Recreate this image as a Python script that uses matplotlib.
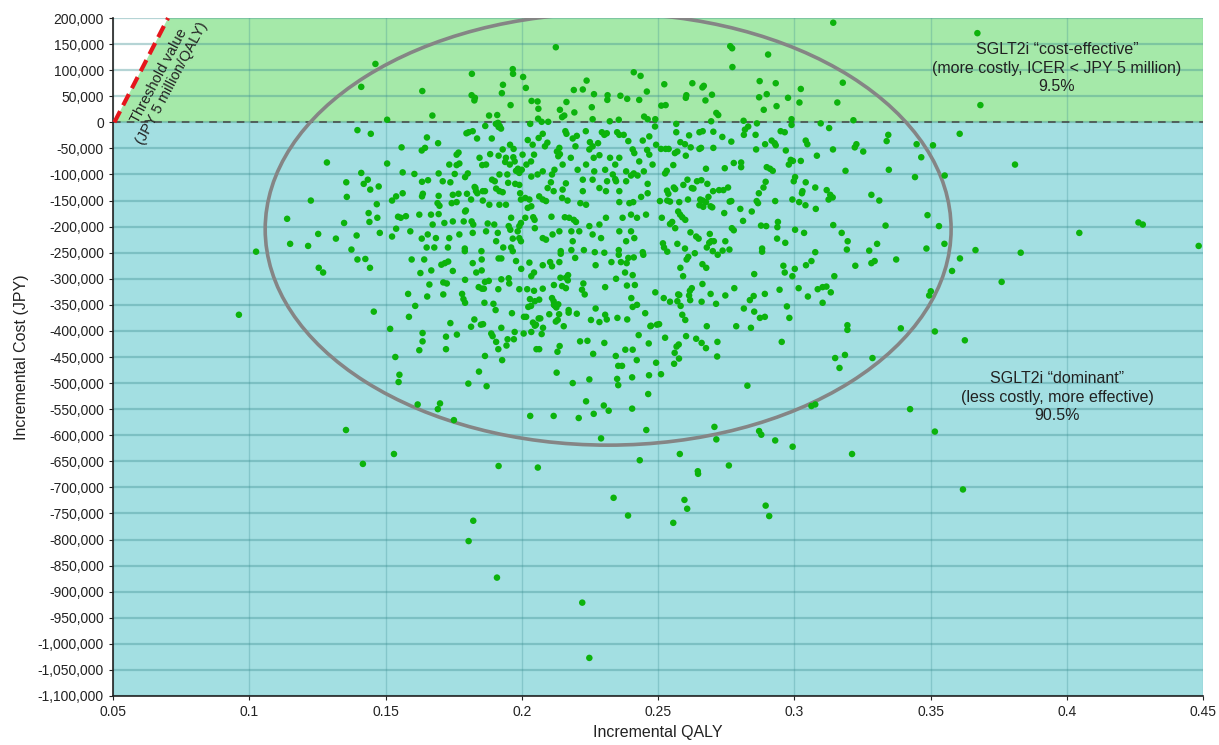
import numpy as np
import matplotlib
matplotlib.use("Agg")
import matplotlib.pyplot as plt
from matplotlib.patches import Ellipse, Polygon, Rectangle
from matplotlib.ticker import FuncFormatter, MultipleLocator

plt.rcParams['font.family'] = ['Liberation Sans', 'DejaVu Sans']

# simulation results: (incremental QALY, incremental cost in thousand JPY)
pts_left = [
    (0.1463, 112), (0.1411, 68), (0.1397, -15), (0.1446, -22), (0.1285, -77), (0.1411, -97), (0.1356, -115),
    (0.1435, -110), (0.1420, -118), (0.1444, -129), (0.1475, -123), (0.1226, -150), (0.1358, -143), (0.1468, -157),
    (0.1438, -174), (0.1470, -183), (0.1441, -191), (0.1139, -185), (0.1348, -193), (0.1479, -212), (0.1253, -214),
    (0.1318, -223), (0.1394, -217), (0.1150, -233), (0.1216, -237), (0.1025, -248), (0.1375, -244), (0.1397, -263),
    (0.1426, -262), (0.1443, -279), (0.1255, -279), (0.1271, -288), (0.0962, -369), (0.1457, -363), (0.1355, -590),
    (0.1417, -655),
]
pts_low_tail = [
    (0.2337, -720), (0.2390, -754), (0.1822, -764), (0.1805, -803), (0.1909, -873), (0.2222, -921), (0.2248, -1027),
    (0.2597, -724), (0.2607, -741), (0.2556, -768), (0.2895, -735), (0.2908, -755), (0.2647, -674), (0.3619, -704),
]
pts_right = [
    (0.3672, 171), (0.3683, 33), (0.3607, -22), (0.3509, -44), (0.3810, -81), (0.3552, -102), (0.3531, -199),
    (0.4046, -212), (0.4263, -192), (0.4279, -196), (0.3551, -233), (0.4484, -237), (0.3665, -245), (0.3831, -250),
    (0.3608, -261), (0.3579, -285), (0.3761, -306), (0.3516, -401), (0.3626, -418), (0.3516, -593),
]
pts_upper_right = [
    (0.3143, 191), (0.2765, 146), (0.2772, 142), (0.2904, 130), (0.2773, 106), (0.2523, 73), (0.2626, 75),
    (0.2663, 67), (0.2668, 70), (0.2698, 53), (0.2604, 52), (0.2602, 47), (0.2674, 42), (0.2512, 32), (0.2528, 33),
    (0.2873, 79), (0.2932, 75), (0.2899, 54), (0.2871, 48), (0.2977, 47), (0.3024, 64), (0.3019, 38), (0.2935, 31),
    (0.2888, 24), (0.3178, 76), (0.3158, 38), (0.2714, 18), (0.2721, 14), (0.2695, 2), (0.2814, 3), (0.2863, -2),
    (0.2990, 6), (0.2990, -5), (0.3097, -2), (0.3128, -11), (0.3217, 4), (0.2567, -3),
    (0.2664, -17), (0.2652, -19), (0.2703, -18), (0.2831, -8), (0.2819, -14), (0.2815, -24), (0.2858, -24),
    (0.2567, -19), (0.2614, -25), (0.2736, -28), (0.2950, -17), (0.2965, -19), (0.2917, -35), (0.2928, -40),
    (0.2932, -44), (0.2893, -42), (0.2769, -37), (0.2582, -38), (0.2599, -42), (0.2620, -48), (0.2528, -51),
    (0.2539, -51), (0.2511, -51), (0.2562, -59), (0.2571, -56), (0.2602, -64), (0.2652, -51), (0.2658, -49),
    (0.2703, -49), (0.2860, -52), (0.2969, -54), (0.3042, -35), (0.3048, -42), (0.3142, -52), (0.3222, -48),
    (0.3228, -42), (0.3253, -56), (0.3339, -36), (0.3345, -24), (0.3449, -42), (0.3466, -67), (0.3083, -64),
    (0.3024, -74), (0.2987, -72), (0.2980, -81), (0.2995, -74), (0.2778, -78), (0.2805, -77), (0.2805, -86),
    (0.2745, -88), (0.2899, -86), (0.2911, -89), (0.2921, -93), (0.2676, -89), (0.2556, -82), (0.2532, -93),
    (0.2526, -98), (0.3188, -93), (0.3347, -91), (0.3443, -105), (0.3489, -178), (0.3003, -105), (0.2998, -113),
    (0.3042, -115), (0.3077, -125), (0.3119, -130), (0.3132, -139), (0.3141, -144), (0.3126, -148), (0.3028, -136),
    (0.3030, -132), (0.3018, -153), (0.2993, -148), (0.3041, -159), (0.3079, -166), (0.3283, -139), (0.3312, -150),
    (0.3335, -198), (0.3143, -197), (0.3174, -212), (0.3196, -228), (0.3304, -233), (0.2895, -114), (0.2887, -125),
    (0.2870, -136), (0.2862, -151), (0.2867, -155), (0.2930, -151), (0.2844, -171), (0.2802, -166), (0.2812, -189),
    (0.2878, -198), (0.2897, -199), (0.2940, -191), (0.2938, -201), (0.3003, -206), (0.3036, -212), (0.2937, -223),
    (0.2967, -231), (0.2771, -203), (0.2778, -207), (0.2743, -174), (0.2763, -152), (0.2769, -151), (0.2724, -130),
    (0.2740, -130), (0.2757, -125), (0.2702, -132), (0.2655, -148), (0.2664, -150), (0.2676, -153), (0.2685, -143),
    (0.2652, -159), (0.2666, -162), (0.2693, -161), (0.2699, -163), (0.2681, -118), (0.2643, -113), (0.2659, -111),
    (0.2608, -110), (0.2593, -120), (0.2624, -126), (0.2630, -127), (0.2610, -148), (0.2578, -153), (0.2533, -131),
    (0.2538, -137), (0.2558, -125), (0.2563, -128), (0.2534, -150), (0.2544, -152), (0.2507, -151), (0.2514, -183),
    (0.2574, -171), (0.2581, -177), (0.2589, -182), (0.2600, -187), (0.2552, -191), (0.2544, -195), (0.2563, -203),
    (0.2619, -211), (0.2640, -219), (0.2649, -223), (0.2690, -214), (0.2695, -228), (0.2688, -231), (0.2705, -228),
    (0.2747, -228), (0.2518, -232), (0.2571, -233),
]
pts_lower_right = [
    (0.2522, -240), (0.2534, -248), (0.2599, -242), (0.2635, -251), (0.2679, -240), (0.2701, -247), (0.2719, -254),
    (0.2737, -246), (0.2762, -244), (0.2882, -242), (0.2882, -248), (0.2605, -263), (0.2611, -258), (0.2663, -272),
    (0.2677, -279), (0.2582, -279), (0.2592, -295), (0.2853, -291), (0.2960, -275), (0.2965, -288), (0.2993, -295),
    (0.3002, -281), (0.3043, -274), (0.3063, -266), (0.3077, -249), (0.3147, -295), (0.3193, -244), (0.3224, -275),
    (0.3275, -246), (0.3283, -270), (0.3295, -266), (0.3374, -263), (0.3485, -242), (0.3495, -332), (0.3501, -324),
    (0.2663, -310), (0.2624, -318), (0.2617, -323), (0.2614, -332), (0.2618, -341), (0.2574, -330), (0.2578, -331),
    (0.2571, -343), (0.2544, -344), (0.2521, -337), (0.2583, -352), (0.2589, -369), (0.2600, -379), (0.2693, -329),
    (0.2660, -344), (0.2713, -348), (0.2747, -332), (0.2780, -318), (0.2851, -333), (0.2837, -341), (0.2815, -357),
    (0.2853, -363), (0.2874, -375), (0.2892, -373), (0.2892, -329), (0.2946, -321), (0.2973, -353), (0.2982, -375),
    (0.3016, -318), (0.3050, -334), (0.3086, -320), (0.3104, -316), (0.3118, -315), (0.3134, -326), (0.3104, -346),
    (0.2679, -391), (0.2787, -391), (0.2841, -394), (0.2954, -421), (0.2718, -421), (0.2717, -449), (0.2504, -387),
    (0.2526, -413), (0.2640, -415), (0.2660, -423), (0.2676, -433), (0.2603, -410), (0.2576, -426), (0.2568, -430),
    (0.2561, -442), (0.2577, -453), (0.2559, -463), (0.2511, -483), (0.3195, -389), (0.3195, -398), (0.3150, -452),
    (0.3186, -446), (0.3166, -471), (0.3287, -452), (0.3391, -395), (0.2828, -505), (0.3063, -544), (0.3077, -541),
    (0.3425, -550), (0.2707, -584), (0.2714, -608), (0.2871, -592), (0.2879, -599), (0.2930, -610), (0.2994, -622),
    (0.2580, -636), (0.3212, -636), (0.2760, -658), (0.2646, -669),
]
pts_lower_mid = [
    (0.1531, -636), (0.1915, -659), (0.2059, -662), (0.2433, -648), (0.2457, -590), (0.2291, -606), (0.1618, -541),
    (0.1692, -550), (0.1700, -539), (0.1751, -571), (0.2031, -563), (0.2117, -563), (0.2209, -567), (0.2264, -559),
    (0.2236, -535), (0.2301, -543), (0.2319, -553), (0.2405, -549), (0.2464, -521), (0.1551, -484), (0.1548, -498),
    (0.1536, -450), (0.1517, -396), (0.1804, -501), (0.1871, -506), (0.1843, -478), (0.1865, -448), (0.1928, -456),
    (0.2128, -480), (0.2187, -500), (0.2248, -493), (0.2350, -492), (0.2354, -504), (0.2405, -489), (0.2467, -485),
    (0.2354, -467), (0.2368, -467), (0.2345, -448), (0.2493, -461), (0.2422, -456), (0.2466, -424), (0.2474, -390),
    (0.2429, -408), (0.2380, -436), (0.2407, -436), (0.2262, -444), (0.2303, -423), (0.2241, -419), (0.2214, -420),
    (0.2139, -429), (0.2131, -440), (0.2064, -435), (0.2054, -435), (0.1722, -435), (0.1624, -437), (0.1636, -420),
    (0.1636, -404), (0.1722, -411), (0.1762, -407), (0.1586, -373), (0.1609, -352), (0.1583, -329), (0.1738, -385),
    (0.1814, -392), (0.1826, -378), (0.1850, -388), (0.1858, -387), (0.1888, -405), (0.1893, -410), (0.1906, -421),
    (0.1914, -435), (0.1925, -394), (0.1948, -416), (0.1944, -428), (0.1971, -416), (0.1974, -402), (0.1964, -366),
    (0.1904, -360), (0.1896, -348), (0.1863, -346), (0.1792, -346), (0.1786, -339), (0.1781, -329), (0.1712, -330),
    (0.1653, -334), (0.2007, -405), (0.2035, -402), (0.2073, -406), (0.2008, -373), (0.2016, -373), (0.2041, -384),
    (0.2048, -390), (0.2062, -376), (0.2068, -376), (0.2078, -394), (0.2052, -388), (0.2024, -354), (0.2034, -352),
    (0.2030, -339), (0.2048, -343), (0.2064, -340), (0.2101, -368), (0.2125, -382), (0.2132, -379), (0.2137, -368),
    (0.2154, -391), (0.2172, -360), (0.2172, -365), (0.2202, -367), (0.2111, -337), (0.2117, -343), (0.2122, -352),
    (0.2127, -355), (0.2118, -350), (0.2134, -349), (0.2254, -379), (0.2285, -383), (0.2306, -369), (0.2312, -378),
    (0.2351, -375), (0.2387, -378), (0.2402, -337), (0.2407, -354), (0.2423, -350), (0.2453, -366), (0.2472, -391),
    (0.2496, -388), (0.2490, -326), (0.2415, -312), (0.2386, -313), (0.2346, -300), (0.2306, -316), (0.2271, -357),
    (0.2226, -309), (0.2221, -321), (0.2231, -330), (0.2162, -318), (0.2148, -314), (0.2118, -312), (0.2169, -303),
    (0.2170, -293), (0.2162, -298), (0.2142, -298), (0.2045, -323), (0.2077, -319), (0.2020, -320), (0.1991, -320),
    (0.1914, -320), (0.1879, -304), (0.1865, -306), (0.1842, -316), (0.1854, -319), (0.1861, -319), (0.1925, -301),
    (0.1952, -299), (0.1954, -309), (0.1792, -302), (0.1747, -285), (0.1833, -288), (0.1853, -284), (0.1820, -270),
    (0.1853, -263), (0.1915, -261), (0.1925, -261), (0.1979, -266), (0.1998, -281), (0.2028, -269), (0.2035, -295),
    (0.2045, -288), (0.2077, -274), (0.2104, -268), (0.2111, -276), (0.2138, -268), (0.2143, -247), (0.2182, -245),
    (0.2143, -252), (0.2228, -245), (0.2268, -249), (0.2303, -250), (0.2329, -268), (0.2356, -245), (0.2356, -254),
    (0.2364, -268), (0.2391, -260), (0.2385, -270), (0.2411, -259), (0.2379, -288), (0.2407, -293), (0.2444, -249),
    (0.2446, -254), (0.2271, -274), (0.2196, -260), (0.1596, -263), (0.1642, -263), (0.1668, -284), (0.1628, -289),
    (0.1705, -273), (0.1718, -270), (0.1730, -267), (0.1661, -311), (0.1712, -307), (0.1725, -309), (0.1651, -240),
    (0.1679, -240), (0.1729, -240), (0.1791, -242), (0.1791, -247), (0.1852, -247), (0.1932, -240), (0.1961, -240),
    (0.1967, -247),
]
pts_upper_mid = [
    (0.2125, 144), (0.1817, 93), (0.1967, 102), (0.1968, 93), (0.2005, 87), (0.2015, 66), (0.1931, 72), (0.1927, 56),
    (0.1635, 60), (0.1816, 52), (0.1828, 47), (0.1826, 42), (0.1959, 33), (0.1672, 13), (0.1880, 13), (0.1910, 14),
    (0.1913, -1), (0.1919, -7), (0.1924, -12), (0.1915, -9), (0.1905, -3), (0.1506, 5), (0.1866, -7), (0.2036, 41),
    (0.2058, 40), (0.2061, 26), (0.2031, -3), (0.2060, 7), (0.2073, 1), (0.2097, 1), (0.2140, 24), (0.2164, 39),
    (0.2193, 19), (0.2148, 10), (0.2156, 13), (0.2191, 62), (0.2224, 63), (0.2238, 80), (0.2265, 54), (0.2257, 29),
    (0.2260, 6), (0.2315, 52), (0.2314, 43), (0.2362, 51), (0.2387, 45), (0.2411, 96), (0.2436, 89), (0.2459, 59),
    (0.2431, 43), (0.2449, 11), (0.2462, 6), (0.2490, 6), (0.2489, -8), (0.2356, 5), (0.2323, 2),
    (0.1805, -19), (0.1820, -17), (0.1836, -31), (0.1797, -21), (0.1652, -29), (0.1693, -40), (0.1559, -48),
    (0.1633, -54), (0.1645, -49), (0.1506, -79), (0.1563, -96), (0.1606, -99), (0.1634, -114), (0.1656, -111),
    (0.1524, -150), (0.1539, -142), (0.1563, -136), (0.1637, -137), (0.1634, -142), (0.1546, -181), (0.1556, -183),
    (0.1524, -219), (0.1591, -209), (0.1633, -223), (0.1655, -215), (0.1695, -98), (0.1710, -113), (0.1738, -115),
    (0.1761, -82), (0.1771, -79), (0.1754, -99), (0.1768, -58), (0.1792, -105), (0.1802, -98), (0.1799, -137),
    (0.1768, -137), (0.1695, -141), (0.1691, -155), (0.1695, -176), (0.1743, -155), (0.1761, -153), (0.1792, -171),
    (0.1816, -190), (0.1822, -196), (0.1827, -124), (0.1832, -132), (0.1837, -136), (0.1865, -132), (0.1857, -132),
    (0.1855, -82), (0.1884, -61), (0.1890, -31), (0.1915, -64), (0.1930, -52), (0.1939, -76), (0.1956, -81),
    (0.1947, -100), (0.1986, -89), (0.1985, -94), (0.1979, -93), (0.2000, -91), (0.1957, -43), (0.1970, -51),
    (0.1969, -67), (0.2003, -62), (0.2022, -34), (0.2040, -43), (0.2045, -62), (0.2034, -75), (0.2017, -81),
    (0.2062, -30), (0.2077, -22), (0.2094, -39), (0.2085, -46), (0.2111, -100), (0.2129, -56), (0.2138, -49),
    (0.2140, -61), (0.2134, -65), (0.2160, -17), (0.2164, -22), (0.2187, -31), (0.2202, -26), (0.2197, -46),
    (0.2235, -17), (0.2248, -52), (0.2260, -46), (0.2285, -63), (0.2264, -68), (0.2250, -38), (0.2280, -40),
    (0.2294, -19), (0.2303, -24), (0.2312, -21), (0.2350, -19), (0.2358, -24), (0.2374, -24), (0.2391, -36),
    (0.2407, -52), (0.2413, -59), (0.2444, -35), (0.2448, -94), (0.2460, -53), (0.2468, -62), (0.2462, -118),
    (0.2411, -98), (0.2425, -102), (0.2343, -81), (0.2334, -100), (0.2343, -109), (0.2383, -113), (0.2401, -102),
    (0.2107, -115), (0.2095, -126), (0.2117, -132), (0.2150, -129), (0.2162, -117), (0.2148, -145), (0.2168, -150),
    (0.2158, -182), (0.2174, -183), (0.2191, -187), (0.2199, -191), (0.2182, -209), (0.2211, -209), (0.2215, -155),
    (0.2236, -158), (0.2224, -132), (0.2224, -110), (0.2260, -110), (0.2285, -126), (0.2309, -132), (0.2313, -113),
    (0.2346, -113), (0.2358, -132), (0.2358, -153), (0.2395, -155), (0.2409, -153), (0.2438, -143), (0.2462, -136),
    (0.2456, -177), (0.2423, -183), (0.2401, -177), (0.2370, -183), (0.2309, -183), (0.2285, -196), (0.2248, -199),
    (0.2260, -215), (0.2291, -222), (0.2358, -209), (0.2401, -209), (0.2413, -222), (0.2383, -228), (0.2187, -228),
    (0.2138, -209), (0.2109, -181), (0.2089, -151), (0.2077, -148), (0.2064, -142), (0.2028, -148), (0.2013, -145),
    (0.2022, -164), (0.2035, -161), (0.2013, -183), (0.1997, -193), (0.1991, -199), (0.1961, -183), (0.1958, -206),
    (0.1967, -223), (0.1991, -222), (0.1997, -228), (0.2042, -182), (0.2047, -187), (0.2048, -203), (0.2077, -222),
    (0.2089, -225), (0.2113, -215), (0.1830, -126), (0.1891, -110), (0.1901, -113), (0.1906, -127), (0.1918, -132),
    (0.1930, -134), (0.1950, -116), (0.1976, -118), (0.1991, -120), (0.1994, -136), (0.1997, -148), (0.1942, -158),
    (0.1918, -158), (0.1881, -158), (0.1857, -150), (0.1814, -148), (0.1747, -139), (0.1698, -160), (0.1795, -169),
    (0.1667, -177), (0.1624, -177), (0.1575, -180), (0.1539, -204), (0.1673, -196), (0.1716, -193), (0.1747, -190),
    (0.1787, -190), (0.1875, -194), (0.1899, -196), (0.1912, -212), (0.1869, -209), (0.1820, -212), (0.1771, -215),
    (0.1734, -222), (0.1685, -222), (0.1906, -228), (0.1952, -199), (0.1985, -209), (0.1761, -62), (0.1734, -81),
    (0.1845, -68), (0.1869, -81), (0.1918, -100), (0.1942, -68), (0.1974, -75), (0.1991, -97), (0.2035, -104),
    (0.2058, -100), (0.2077, -94), (0.2120, -91), (0.2150, -81), (0.2180, -68), (0.2205, -91), (0.2236, -81),
    (0.2266, -94), (0.2306, -91), (0.2324, -68), (0.2358, -68), (0.2383, -94), (0.2431, -75), (0.2480, -81),
    (0.2493, -43), (0.2468, -27),
]

# threshold line (JPY 5 million/QALY) as drawn, and the ellipse round the cloud
threshold_qaly = [0.0505, 0.0702]
threshold_cost = [0, 200000]
ellipse_center = (0.2317, -205000)
ellipse_size = (0.2517, 828000)

x_ticks = [0.05, 0.1, 0.15, 0.2, 0.25, 0.3, 0.35, 0.4, 0.45]

all_pts = pts_left + pts_low_tail + pts_right + pts_upper_right + pts_lower_right + pts_lower_mid + pts_upper_mid
qaly = np.array([p[0] for p in all_pts])
cost = np.array([p[1] for p in all_pts]) * 1000

fig = plt.figure(figsize=(12.19, 7.45), dpi=100)
ax = fig.add_axes([0.0927, 0.0658, 0.8942, 0.91])

xmin, xmax = 0.05, 0.45
ymin, ymax = -1100000, 200000

# shaded regions
ax.add_patch(Rectangle((xmin, ymin), xmax - xmin, -ymin, facecolor='#a3dfe2', edgecolor='none', zorder=0))
ax.add_patch(Polygon([(threshold_qaly[0], 0), (threshold_qaly[1], ymax), (xmax, ymax), (xmax, 0)],
                     closed=True, facecolor='#a5e9a9', edgecolor='none', zorder=0))

# grid
for yv in np.arange(ymin, ymax + 1, 50000):
    ax.axhline(yv, color='#3d8f93', alpha=0.38, lw=1.6, zorder=1)
for xv in x_ticks:
    ax.axvline(xv, color='#3d8f93', alpha=0.3, lw=1.0, zorder=1)

ax.axhline(0, color='#444444', lw=1.1, ls=(0, (5, 4)), zorder=2)
ax.plot(threshold_qaly, threshold_cost, color='#e5161c', lw=3, ls=(0, (3, 1.6)), zorder=3, clip_on=False)

ax.add_patch(Ellipse(ellipse_center, ellipse_size[0], ellipse_size[1], fill=False,
                     edgecolor='#858585', lw=2.6, zorder=4))

ax.scatter(qaly, cost, s=22, color='#0cb30c', edgecolors='none', zorder=5)

ax.set_xlim(xmin, xmax)
ax.set_ylim(ymin, ymax)
ax.set_xticks(x_ticks)
ax.xaxis.set_major_formatter(FuncFormatter(lambda v, p: f"{v:g}"))
ax.yaxis.set_major_locator(MultipleLocator(50000))
ax.yaxis.set_major_formatter(FuncFormatter(lambda v, p: f"{v:,.0f}"))
ax.tick_params(axis='both', labelsize=10, colors='#222222', length=3)

for s in ['top', 'right']:
    ax.spines[s].set_visible(False)
for s in ['left', 'bottom']:
    ax.spines[s].set_color('#222222')
    ax.spines[s].set_linewidth(1.2)

ax.set_xlabel('Incremental QALY', fontsize=11.5, color='#222222', labelpad=4)
ax.set_ylabel('Incremental Cost (JPY)', fontsize=11.5, color='#222222', labelpad=6)

ax.text(0.3964, 104000, 'SGLT2i \u201ccost-effective\u201d\n(more costly, ICER < JPY 5 million)\n9.5%',
        ha='center', va='center', fontsize=11.5, color='#222222', linespacing=1.3, zorder=6)
ax.text(0.3964, -527000, 'SGLT2i \u201cdominant\u201d\n(less costly, more effective)\n90.5%',
        ha='center', va='center', fontsize=11.5, color='#222222', linespacing=1.3, zorder=6)
ax.text(0.0692, 82000, 'Threshold value\n(JPY 5 million/QALY)', rotation=62, rotation_mode='anchor',
        ha='center', va='center', fontsize=10.5, color='#222222', linespacing=1.05, zorder=6)

fig.savefig('out.png', dpi=100)
